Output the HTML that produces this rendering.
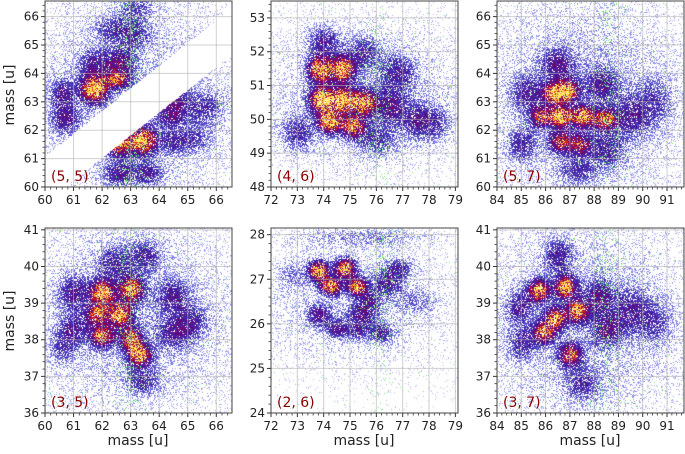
<!DOCTYPE html>
<html><head><meta charset="utf-8">
<style>
html,body{margin:0;padding:0;background:#fff;}
body{width:685px;height:454px;overflow:hidden;position:relative;font-family:"DejaVu Sans","Liberation Sans",sans-serif;}
canvas{position:absolute;left:0;top:0;}
svg{position:absolute;left:0;top:0;}
</style></head>
<body>
<canvas id="cv" width="685" height="454"></canvas>
<svg id="sv" width="685" height="454"></svg>
<script>
const panelLabels=["(5, 5)","(4, 6)","(5, 7)","(3, 5)","(2, 6)","(3, 7)"];
const xRanges=[[60,66.55],[72,79.1],[84,91.7],[60,66.55],[72,79.1],[84,91.7]];
const yRanges=[[60,66.55],[48,53.5],[60,66.55],[36,41.05],[24,28.15],[36,41.05]];
const xTicks=[[60,61,62,63,64,65,66],[72,73,74,75,76,77,78,79],[84,85,86,87,88,89,90,91],[60,61,62,63,64,65,66],[72,73,74,75,76,77,78,79],[84,85,86,87,88,89,90,91]];
const yTicks=[[60,61,62,63,64,65,66],[48,49,50,51,52,53],[60,61,62,63,64,65,66],[36,37,38,39,40,41],[24,25,26,27,28],[36,37,38,39,40,41]];
// blobs: [x, y, sigma_x, sigma_y, amplitude]
const blobs0=[[61.7,63.45,0.3,0.3,0.95],[63.4,61.65,0.3,0.3,0.95],[62.6,61.5,0.3,0.25,0.7],[62.5,63.8,0.3,0.2,0.6],[62.6,64.4,0.35,0.35,0.35],[61.7,64.3,0.35,0.35,0.3],[60.6,63.3,0.3,0.35,0.3],[60.7,62.4,0.35,0.35,0.3],[62.6,60.5,0.35,0.3,0.3],[63.6,60.5,0.35,0.3,0.28],[64.4,62.6,0.4,0.35,0.3],[64.5,63.3,0.35,0.35,0.28],[65.6,62.8,0.45,0.4,0.22],[63.1,65.4,0.4,0.35,0.22],[62.3,65.6,0.4,0.3,0.2],[63.2,66.3,0.4,0.3,0.2],[64.5,61.6,0.4,0.3,0.22],[65.3,61.7,0.4,0.3,0.16],[63,63,2.8,2.8,0.12]];
const blobs1=[[73.85,51.5,0.3,0.25,0.9],[74.7,51.5,0.3,0.25,0.85],[73.9,50.6,0.3,0.25,0.95],[74.7,50.6,0.3,0.25,0.9],[75.5,50.5,0.3,0.25,0.8],[74.2,49.95,0.3,0.22,0.85],[75.1,49.8,0.3,0.22,0.75],[76.5,50.4,0.4,0.35,0.32],[77.5,50,0.4,0.35,0.25],[74,52.3,0.4,0.3,0.3],[75.5,52,0.4,0.3,0.25],[76.8,51.4,0.45,0.35,0.25],[78.2,49.9,0.4,0.35,0.22],[73,49.6,0.4,0.35,0.25],[76,49.4,0.5,0.3,0.22],[75.5,50.7,2.8,1.5,0.12]];
const blobs2=[[86.3,63.3,0.3,0.25,0.85],[86.9,63.4,0.3,0.25,0.8],[86.6,62.5,0.3,0.25,0.85],[87.5,62.5,0.3,0.25,0.8],[85.8,62.5,0.3,0.25,0.6],[88.4,62.4,0.35,0.25,0.65],[86.6,61.6,0.3,0.25,0.6],[87.4,61.5,0.3,0.25,0.55],[86.5,64.3,0.45,0.4,0.32],[85.2,63.3,0.4,0.4,0.28],[88.3,63.6,0.45,0.4,0.28],[89.5,62.5,0.5,0.5,0.25],[85,61.5,0.4,0.4,0.25],[88.5,61.3,0.45,0.4,0.25],[87.3,60.6,0.5,0.3,0.22],[90.5,63,0.5,0.6,0.18],[87.5,63,3,2.8,0.13]];
const blobs3=[[62,39.3,0.28,0.22,0.9],[63,39.4,0.28,0.22,0.85],[62.6,38.7,0.3,0.22,0.8],[63,38.05,0.25,0.2,0.75],[63.3,37.6,0.28,0.2,0.8],[62,38.1,0.28,0.2,0.7],[61.8,38.7,0.25,0.2,0.65],[61,39.3,0.35,0.3,0.32],[64.5,39.2,0.4,0.3,0.28],[65.1,38.5,0.4,0.3,0.25],[61,38.3,0.35,0.3,0.28],[63.5,40.3,0.4,0.3,0.25],[62.4,40.1,0.4,0.3,0.25],[63.4,36.9,0.4,0.25,0.25],[64.5,38.2,0.4,0.3,0.25],[60.6,37.8,0.3,0.3,0.18],[63,38.6,2.8,2,0.12]];
const blobs4=[[73.8,27.2,0.25,0.15,0.9],[74.8,27.25,0.25,0.15,0.85],[74.25,26.85,0.25,0.13,0.85],[75.25,26.85,0.25,0.13,0.8],[73.8,26.2,0.3,0.16,0.35],[74.5,25.9,0.3,0.15,0.28],[75.4,26.2,0.35,0.16,0.3],[76.2,25.8,0.3,0.15,0.3],[75.7,26.5,0.3,0.15,0.28],[76.4,26.9,0.4,0.18,0.28],[76.8,27.25,0.4,0.15,0.25],[75.3,25.85,0.3,0.13,0.25],[77.5,26.5,0.5,0.2,0.13],[72.8,27.1,0.4,0.2,0.13],[75.5,27.95,1.8,0.15,0.13],[75,26.5,2.6,1.0,0.1]];
const blobs5=[[85.7,39.35,0.28,0.2,0.85],[86.8,39.45,0.3,0.2,0.85],[87.3,38.8,0.3,0.2,0.8],[86.4,38.6,0.3,0.2,0.75],[85.9,38.2,0.3,0.2,0.7],[87,37.6,0.3,0.2,0.7],[88.2,39.2,0.4,0.3,0.32],[88.5,38.3,0.4,0.3,0.32],[84.9,38.9,0.35,0.3,0.28],[85,37.9,0.35,0.3,0.25],[86.5,40.3,0.4,0.3,0.28],[89.5,38.8,0.5,0.4,0.25],[87.5,36.8,0.5,0.3,0.22],[90.5,38.5,0.5,0.4,0.18],[87.5,38.5,3,2,0.13]];
const blobSets=[blobs0,blobs1,blobs2,blobs3,blobs4,blobs5];
const greenBands=[[63],[76],[88.6],[63],[76.2],[88.5]];

const boxes=[[45,1,232,187],[271,1,458,187],[497,1,684,187],[45,228,232,413],[271,228,458,413],[497,228,684,413]];

function hash(x,y,s){let h=(x*374761393+y*668265263+s*1442695041)|0;h=(h^(h>>>13))*1274126177|0;h=h^(h>>>16);return ((h>>>0)%100000)/100000;}
const cmapStops=[[0,[190,190,240]],[0.12,[120,120,225]],[0.28,[60,40,175]],[0.45,[85,10,130]],[0.6,[140,0,90]],[0.72,[210,20,40]],[0.82,[250,110,20]],[0.9,[255,210,50]],[1.0,[255,235,90]]];
function cmap(v){v=Math.max(0,Math.min(1,v));for(let i=1;i<cmapStops.length;i++){if(v<=cmapStops[i][0]){const a=cmapStops[i-1],b=cmapStops[i];const t=(v-a[0])/(b[0]-a[0]);return a[1].map((c,k)=>Math.round(c+(b[1][k]-c)*t));}}return cmapStops[cmapStops.length-1][1];}

const cv=document.getElementById('cv');const ctx=cv.getContext('2d');
const img=ctx.createImageData(685,454);const D=img.data;
for(let i=0;i<D.length;i+=4){D[i]=255;D[i+1]=255;D[i+2]=255;D[i+3]=255;}
boxes.forEach((b,p)=>{
  const [x0,y0,x1,y1]=b;const xr=xRanges[p],yr=yRanges[p];
  for(let py=y0;py<y1;py++)for(let px=x0;px<x1;px++){
    const dx=xr[0]+(px-x0)/(x1-x0)*(xr[1]-xr[0]);
    const dy=yr[1]-(py-y0)/(y1-y0)*(yr[1]-yr[0]);
    let band=false;
    if(p===0){const up=61.9+0.8*(dx-61),lo=61.05+0.8*(dx-62);if(dy<up&&dy>lo)continue;
      if(dy<up&&dy>up-0.25||dy>lo&&dy<lo+0.25)band=true;}
    let d=0;for(const bl of blobSets[p]){const u=(dx-bl[0])/bl[2],w=(dy-bl[1])/bl[3];d+=bl[4]*Math.exp(-0.5*(u*u+w*w));}
    if(band)d=d*1.6+0.15;
    const r=hash(px,py,p),r2=hash(py,px,p+7);
    let v=d*(0.55+0.9*r2);
    const idx=(py*685+px)*4;
    let gp=0.01;for(const g of greenBands[p]){gp+=0.1*Math.exp(-Math.pow((dx-g)/0.5,2));}
    if(hash(px+3,py+11,p+3)<gp*Math.min(1,d*3+0.2)&&v<0.7){D[idx]=110;D[idx+1]=235;D[idx+2]=110;continue;}
    const prob=Math.min(0.9,v*3.2);
    if(r<prob){const c=cmap(v);D[idx]=c[0];D[idx+1]=c[1];D[idx+2]=c[2];}
  }
});
ctx.putImageData(img,0,0);

const NS='http://www.w3.org/2000/svg';const sv=document.getElementById('sv');
function el(t,a,parent){const e=document.createElementNS(NS,t);for(const k in a)e.setAttribute(k,a[k]);(parent||sv).appendChild(e);return e;}
boxes.forEach((b,p)=>{
  const [x0,y0,x1,y1]=b;const xr=xRanges[p],yr=yRanges[p];
  const X=v=>x0+(v-xr[0])/(xr[1]-xr[0])*(x1-x0);
  const Y=v=>y1-(v-yr[0])/(yr[1]-yr[0])*(y1-y0);
  const g=el('g',{});
  
  
  xTicks[p].forEach(t=>{const x=X(t);
    const gl=el('line',{x1:x,x2:x,y1:y0,y2:y1,stroke:'#b0b0b0','stroke-opacity':0.6,'stroke-width':1},g);
    
    el('line',{x1:x,x2:x,y1:y1,y2:y1+4,stroke:'#333','stroke-width':1},g);
    const tx=el('text',{x:x,y:y1+17,'font-size':12,'text-anchor':'middle',fill:'#222'},g);tx.textContent=t;
    
    for(let k=1;k<5;k++){const m=t+k*0.2;if(m<xr[1]){const mx=X(m);el('line',{x1:mx,x2:mx,y1:y1,y2:y1+2.5,stroke:'#333','stroke-width':0.8},g);}}
  });
  yTicks[p].forEach(t=>{const y=Y(t);
    const gl=el('line',{x1:x0,x2:x1,y1:y,y2:y,stroke:'#b0b0b0','stroke-opacity':0.6,'stroke-width':1},g);
    
    el('line',{x1:x0-4,x2:x0,y1:y,y2:y,stroke:'#333','stroke-width':1},g);
    const tx=el('text',{x:x0-6,y:y+4,'font-size':12,'text-anchor':'end',fill:'#222'},g);tx.textContent=t;
    
    for(let k=1;k<5;k++){const m=t+k*0.2;if(m<yr[1]){const my=Y(m);el('line',{x1:x0-2.5,x2:x0,y1:my,y2:my,stroke:'#333','stroke-width':0.8},g);}}
  });
  const fr=el('rect',{x:x0,y:y0,width:x1-x0,height:y1-y0,fill:'none',stroke:'#444','stroke-width':1},g);
  
  const lb=el('text',{x:x0+6,y:y1-6,'font-size':14,fill:'#8b0000'},g);lb.textContent=panelLabels[p];
  
});
[[14,95],[14,321]].forEach(([x,y])=>{const t=el('text',{x:x,y:y,'font-size':14,'text-anchor':'middle',fill:'#222',transform:`rotate(-90 ${x} ${y})`});t.textContent='mass [u]';
  });
[138,364,590].forEach(x=>{const t=el('text',{x:x,y:445,'font-size':14,'text-anchor':'middle',fill:'#222'});t.textContent='mass [u]';
  });
</script>
</body></html>
